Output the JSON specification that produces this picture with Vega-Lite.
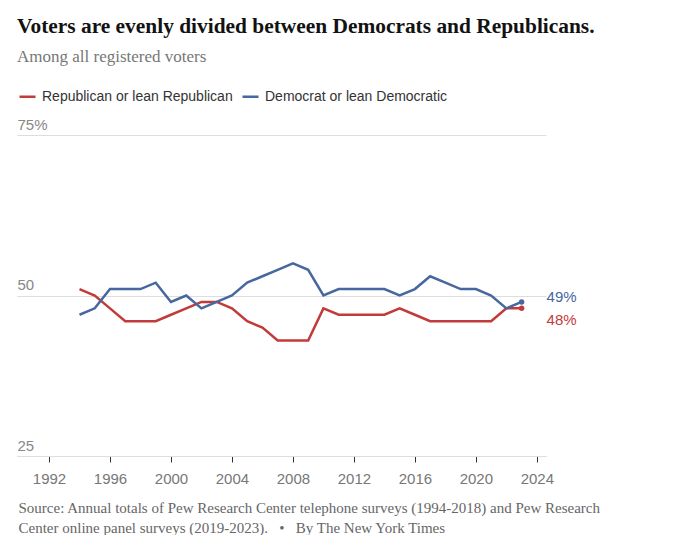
{
  "$schema": "https://vega.github.io/schema/vega-lite/v6.json",
  "width": 529,
  "height": 321,
  "autosize": {"type": "none"},
  "padding": {"left": 17, "top": 135, "right": 134, "bottom": 79},
  "background": "white",
  "title": {
    "text": "Voters are evenly divided between Democrats and Republicans.",
    "subtitle": "Among all registered voters",
    "anchor": "start",
    "frame": "group",
    "font": "Liberation Serif",
    "fontSize": 21.4,
    "fontWeight": "bold",
    "color": "#121212",
    "subtitleFont": "Liberation Serif",
    "subtitleFontSize": 17,
    "subtitleColor": "#777777",
    "subtitlePadding": 12,
    "offset": 22
  },
  "data": {
    "values": [
      {"year": 1994, "party": "Republican or lean Republican", "value": 51},
      {"year": 1995, "party": "Republican or lean Republican", "value": 50},
      {"year": 1996, "party": "Republican or lean Republican", "value": 48},
      {"year": 1997, "party": "Republican or lean Republican", "value": 46},
      {"year": 1998, "party": "Republican or lean Republican", "value": 46},
      {"year": 1999, "party": "Republican or lean Republican", "value": 46},
      {"year": 2000, "party": "Republican or lean Republican", "value": 47},
      {"year": 2001, "party": "Republican or lean Republican", "value": 48},
      {"year": 2002, "party": "Republican or lean Republican", "value": 49},
      {"year": 2003, "party": "Republican or lean Republican", "value": 49},
      {"year": 2004, "party": "Republican or lean Republican", "value": 48},
      {"year": 2005, "party": "Republican or lean Republican", "value": 46},
      {"year": 2006, "party": "Republican or lean Republican", "value": 45},
      {"year": 2007, "party": "Republican or lean Republican", "value": 43},
      {"year": 2008, "party": "Republican or lean Republican", "value": 43},
      {"year": 2009, "party": "Republican or lean Republican", "value": 43},
      {"year": 2010, "party": "Republican or lean Republican", "value": 48},
      {"year": 2011, "party": "Republican or lean Republican", "value": 47},
      {"year": 2012, "party": "Republican or lean Republican", "value": 47},
      {"year": 2013, "party": "Republican or lean Republican", "value": 47},
      {"year": 2014, "party": "Republican or lean Republican", "value": 47},
      {"year": 2015, "party": "Republican or lean Republican", "value": 48},
      {"year": 2016, "party": "Republican or lean Republican", "value": 47},
      {"year": 2017, "party": "Republican or lean Republican", "value": 46},
      {"year": 2018, "party": "Republican or lean Republican", "value": 46},
      {"year": 2019, "party": "Republican or lean Republican", "value": 46},
      {"year": 2020, "party": "Republican or lean Republican", "value": 46},
      {"year": 2021, "party": "Republican or lean Republican", "value": 46},
      {"year": 2022, "party": "Republican or lean Republican", "value": 48},
      {"year": 2023, "party": "Republican or lean Republican", "value": 48},
      {"year": 1994, "party": "Democrat or lean Democratic", "value": 47},
      {"year": 1995, "party": "Democrat or lean Democratic", "value": 48},
      {"year": 1996, "party": "Democrat or lean Democratic", "value": 51},
      {"year": 1997, "party": "Democrat or lean Democratic", "value": 51},
      {"year": 1998, "party": "Democrat or lean Democratic", "value": 51},
      {"year": 1999, "party": "Democrat or lean Democratic", "value": 52},
      {"year": 2000, "party": "Democrat or lean Democratic", "value": 49},
      {"year": 2001, "party": "Democrat or lean Democratic", "value": 50},
      {"year": 2002, "party": "Democrat or lean Democratic", "value": 48},
      {"year": 2003, "party": "Democrat or lean Democratic", "value": 49},
      {"year": 2004, "party": "Democrat or lean Democratic", "value": 50},
      {"year": 2005, "party": "Democrat or lean Democratic", "value": 52},
      {"year": 2006, "party": "Democrat or lean Democratic", "value": 53},
      {"year": 2007, "party": "Democrat or lean Democratic", "value": 54},
      {"year": 2008, "party": "Democrat or lean Democratic", "value": 55},
      {"year": 2009, "party": "Democrat or lean Democratic", "value": 54},
      {"year": 2010, "party": "Democrat or lean Democratic", "value": 50},
      {"year": 2011, "party": "Democrat or lean Democratic", "value": 51},
      {"year": 2012, "party": "Democrat or lean Democratic", "value": 51},
      {"year": 2013, "party": "Democrat or lean Democratic", "value": 51},
      {"year": 2014, "party": "Democrat or lean Democratic", "value": 51},
      {"year": 2015, "party": "Democrat or lean Democratic", "value": 50},
      {"year": 2016, "party": "Democrat or lean Democratic", "value": 51},
      {"year": 2017, "party": "Democrat or lean Democratic", "value": 53},
      {"year": 2018, "party": "Democrat or lean Democratic", "value": 52},
      {"year": 2019, "party": "Democrat or lean Democratic", "value": 51},
      {"year": 2020, "party": "Democrat or lean Democratic", "value": 51},
      {"year": 2021, "party": "Democrat or lean Democratic", "value": 50},
      {"year": 2022, "party": "Democrat or lean Democratic", "value": 48},
      {"year": 2023, "party": "Democrat or lean Democratic", "value": 49}
    ]
  },
  "encoding": {
    "x": {
      "field": "year",
      "type": "quantitative",
      "scale": {"domain": [1989.9, 2024.6], "nice": false, "zero": false},
      "axis": {
        "values": [1992, 1996, 2000, 2004, 2008, 2012, 2016, 2020, 2024],
        "format": "d",
        "grid": false,
        "domainColor": "#dddddd",
        "domainWidth": 1,
        "tickColor": "#333333",
        "tickSize": 6,
        "tickOffset": 0,
        "labelFont": "Liberation Sans",
        "labelFontSize": 15,
        "labelColor": "#777777",
        "labelPadding": 9,
        "title": [
          "Source: Annual totals of Pew Research Center telephone surveys (1994-2018) and Pew Research",
          "Center online panel surveys (2019-2023).\u00a0\u00a0\u00a0•\u00a0\u00a0\u00a0By The New York Times"
        ],
        "titleFont": "Liberation Serif",
        "titleFontSize": 15,
        "titleFontWeight": "normal",
        "titleColor": "#666666",
        "titleAnchor": "start",
        "titleAlign": "left",
        "titleBaseline": "top",
        "titleLineHeight": 20,
        "titleLimit": 700,
        "titleX": 1,
        "titleY": 44
      }
    },
    "y": {
      "field": "value",
      "type": "quantitative",
      "scale": {"domain": [25, 75], "nice": false, "zero": false},
      "axis": {
        "values": [25, 50, 75],
        "labelExpr": "datum.value == 75 ? '75%' : datum.label",
        "domain": false,
        "ticks": false,
        "grid": true,
        "gridColor": "#dddddd",
        "gridWidth": 1,
        "labelAlign": "left",
        "labelBaseline": "bottom",
        "labelPadding": 0,
        "labelOffset": -3,
        "labelFont": "Liberation Sans",
        "labelFontSize": 15,
        "labelColor": "#888888",
        "title": null
      }
    },
    "color": {
      "field": "party",
      "type": "nominal",
      "scale": {
        "domain": ["Republican or lean Republican", "Democrat or lean Democratic"],
        "range": ["#c23b3a", "#47679f"]
      },
      "legend": {
        "title": null,
        "orient": "none",
        "legendX": 1,
        "legendY": -48,
        "direction": "horizontal",
        "symbolType": "stroke",
        "symbolSize": 256,
        "symbolStrokeWidth": 2.5,
        "labelFont": "Liberation Sans",
        "labelFontSize": 14,
        "labelColor": "#333333",
        "labelOffset": 5,
        "labelLimit": 0,
        "columnPadding": 4
      }
    }
  },
  "layer": [
    {
      "mark": {"type": "line", "strokeWidth": 2.5, "interpolate": "linear"}
    },
    {
      "transform": [{"filter": "datum.year == 2023"}],
      "mark": {"type": "point", "filled": true, "size": 30, "opacity": 1}
    },
    {
      "transform": [
        {"filter": "datum.year == 2023 && datum.party == 'Democrat or lean Democratic'"},
        {"calculate": "datum.value + '%'", "as": "label"}
      ],
      "mark": {"type": "text", "align": "left", "baseline": "middle", "dx": 25, "dy": -5, "font": "Liberation Sans", "fontSize": 15},
      "encoding": {"text": {"field": "label"}}
    },
    {
      "transform": [
        {"filter": "datum.year == 2023 && datum.party == 'Republican or lean Republican'"},
        {"calculate": "datum.value + '%'", "as": "label"}
      ],
      "mark": {"type": "text", "align": "left", "baseline": "middle", "dx": 25, "dy": 12, "font": "Liberation Sans", "fontSize": 15},
      "encoding": {"text": {"field": "label"}}
    }
  ],
  "config": {
    "view": {"stroke": null}
  }
}
